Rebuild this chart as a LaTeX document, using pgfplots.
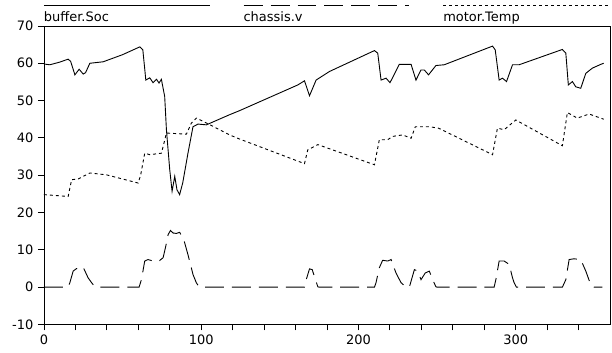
\documentclass[border=0pt]{standalone}
\usepackage{fontspec}
\setmainfont{DejaVu Sans}
\usepackage{pgfplots}
\pgfplotsset{compat=1.18}
\begin{document}
\fontsize{13pt}{15pt}\selectfont
\begin{tikzpicture}[font=\fontsize{13pt}{15pt}\selectfont]
\begin{axis}[
  name=ax,
  scale only axis,
  width=567pt, height=299pt,
  xmin=0, xmax=360, ymin=-10, ymax=70,
  xtick={0,100,200,300},
  minor xtick={20,40,60,80,120,140,160,180,220,240,260,280,320,340},
  ytick={-10,0,10,20,30,40,50,60,70},
  xtick pos=bottom, ytick pos=left,
  tick align=outside,
  major tick length=6pt, minor tick length=6pt,
  axis line style={line width=0.8pt},
  every tick/.style={black, line width=0.8pt},
  /pgf/number format/assume math mode=true,
  legend columns=3,
  legend cell align=left,
  legend style={draw=none, fill=none, overlay, at={(rel axis cs:0,1)}, anchor=south west, yshift=4pt,
    inner sep=0pt, outer sep=0pt,
    nodes={inner sep=0pt, text width=200pt, align=left, text depth=0pt},
    /tikz/every even column/.style={column sep=0pt},
    /tikz/every odd column/.style={column sep=0pt}},
  legend image code/.code={\draw[#1, overlay] (0pt,12pt) -- (166pt,12pt);},
]
\addplot[black, line width=0.9pt] table {
0 59.8
3.8 59.6
10 60.3
15.4 61.1
17 60.5
19.7 56.9
22.4 58.4
25 57.1
26.5 57.5
29.2 60.0
37.7 60.4
50 62.3
61 64.4
62.9 63.6
64.8 55.5
67.3 56.1
69.4 54.8
71.6 55.7
73.2 54.7
74.7 55.7
76.8 51.1
77.9 42.2
80 31.5
81.5 25.7
83.2 29.7
84.6 26.1
86.3 24.8
88.3 28
91.6 35.9
94.8 43.0
98 43.7
103.3 43.5
118 46.2
124.4 47.3
161.5 54.2
165.7 55.3
168.9 51.3
173.1 55.5
181.6 57.8
210.2 63.4
212.3 62.7
214.4 55.5
217.6 56.0
220.1 54.8
226 59.7
233.5 59.7
236.6 55.5
239.8 58.2
241.9 58.2
244.6 56.9
249.3 59.4
254.6 59.6
285.3 64.6
287 63.6
289.5 55.5
291.6 56.0
294.2 55.1
298 59.6
302.2 59.6
329.7 63.7
331.9 62.7
333.5 54.2
336.1 55.1
338.2 53.7
341.4 53.3
344.6 57.3
348.8 58.7
354.1 59.7
356 60
};
\addlegendentry{buffer.Soc}
\addplot[black, line width=0.9pt, dash pattern=on 19pt off 8pt] table {
0 0
15.4 0
16.5 1.2
18.6 4.3
20.8 5.0
23 4.8
25 5.3
28.1 2.5
30.3 1.2
32.4 0.1
34 0
60.5 0
62 2
64.1 7
66.2 7.4
69.4 7
73.2 7
75.8 7.9
77.5 11
79 14.1
80.5 15.2
82.2 14.5
84.3 14.4
86.3 14.7
88.9 12.8
91.6 8.7
94.8 3.4
96.9 1.2
98.6 0.1
100 0
165.7 0
166.8 2
168.9 4.9
170.6 4.7
172.7 2
174.2 0.1
175 0
210.2 0
211.2 1.2
213.3 5.2
215.4 7.2
218.6 7.0
220.8 7.4
223.9 3.8
227.1 1.2
230.3 0
232.4 0
235.6 4.7
237.7 4.3
239.8 2
242.5 3.8
245.1 4.3
247.2 2
249.3 0.1
250 0
286.3 0
287.4 2
289.5 7
292.7 7
295.9 6.1
298 2.5
299 1.2
300.5 0
329.7 0
331.9 2
334 7.4
337.1 7.6
341.4 7.4
344.6 4.3
347.7 0.7
349.8 0
355.1 0
};
\addlegendentry{chassis.v}
\addplot[black, line width=0.9pt, dash pattern=on 3pt off 3pt] table {
0 24.8
15.4 24.3
17.6 28.8
21.8 29.0
29.2 30.6
39.8 30.1
59.9 27.9
61.5 30
64.1 35.9
67.3 35.5
74.7 35.9
76 38
77.9 41.3
90.6 41.0
93.8 44.0
97 45.3
103.3 44.0
118.1 40.8
124.4 39.7
165.7 33.1
167.8 36.8
174.2 38.2
210.2 32.8
213.3 39.5
218.6 39.5
221.8 40.4
228.1 40.8
233.5 39.9
236.2 43.0
245.1 43.0
251 42.6
285.3 35.5
288.4 42.6
292.7 42.2
300.1 44.8
329.7 37.9
332.9 46.8
339.2 45.3
346.7 46.4
354.1 45.3
356 45.0
};
\addlegendentry{motor.Temp}
\end{axis}
\path ([xshift=-44pt,yshift=-28pt]ax.south west) rectangle ([xshift=2pt,yshift=26pt]ax.north east);
\end{tikzpicture}
\end{document}
